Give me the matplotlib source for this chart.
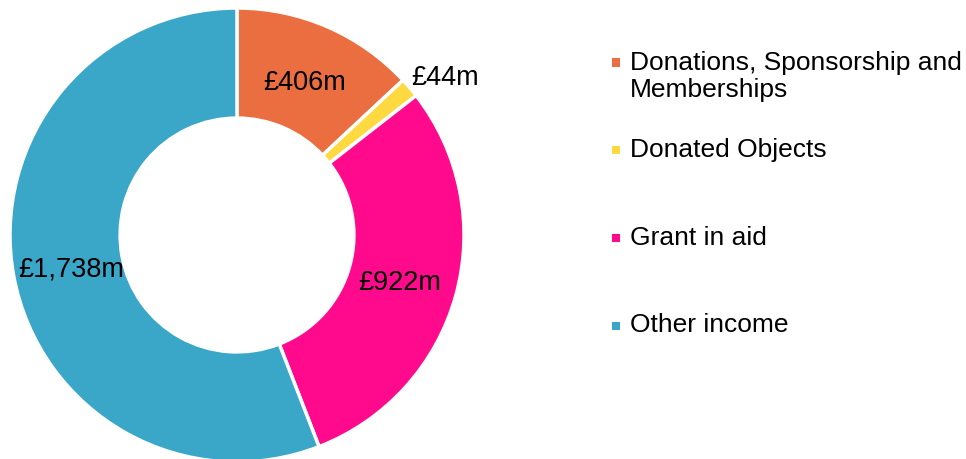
import numpy as np
import matplotlib
matplotlib.use("Agg")
from matplotlib import pyplot as plt
from matplotlib.patches import Rectangle

categories = ["Donations, Sponsorship and\nMemberships", "Donated Objects", "Grant in aid", "Other income"]
values = [406, 44, 922, 1738]
value_labels = ["£406m", "£44m", "£922m", "£1,738m"]
colors = ["#EA6E40", "#FFD940", "#FF0A8C", "#3AA7C9"]

plt.rcParams["font.family"] = ["Liberation Sans", "DejaVu Sans"]

fig = plt.figure(figsize=(9.66, 4.59), dpi=100)
ax = fig.add_axes([10 / 966, -3 / 459, 454 / 966, 454 / 459])

wedges, _ = ax.pie(
    values,
    colors=colors,
    startangle=90,
    counterclock=False,
    radius=1,
    wedgeprops=dict(width=0.485, edgecolor="white", linewidth=2.5),
)
ax.set_xlim(-1, 1)
ax.set_ylim(-1, 1)
ax.set_aspect("equal")
ax.axis("off")

# value labels, placed at the middle of each ring segment
total = sum(values)
start = 90.0
for val, lab in zip(values, value_labels):
    sweep = val / total * 360
    mid = np.deg2rad(start - sweep / 2)
    start -= sweep
    if val / total < 0.05:
        r = 1.15
        x, y = r * np.cos(mid) + 0.04, r * np.sin(mid) - 0.055
    else:
        r = 0.745
        x, y = r * np.cos(mid), r * np.sin(mid) - 0.014
    ax.text(x, y, lab, ha="center", va="center", fontsize=19.5, color="black")

# legend drawn by hand to match the uneven spacing
rows_y = [62, 149, 237, 325]
for cat, col, ry in zip(categories, colors, rows_y):
    fy = 1 - ry / 459
    fig.patches.append(
        Rectangle((612 / 966, fy - 4.5 / 459), 8 / 966, 8 / 459,
                  transform=fig.transFigure, facecolor=col, edgecolor="none")
    )
    fig.text(630 / 966, fy + 11.5 / 459, cat, ha="left", va="top",
             fontsize=19, color="black", linespacing=1.2)

fig.savefig("out.png", dpi=100)
